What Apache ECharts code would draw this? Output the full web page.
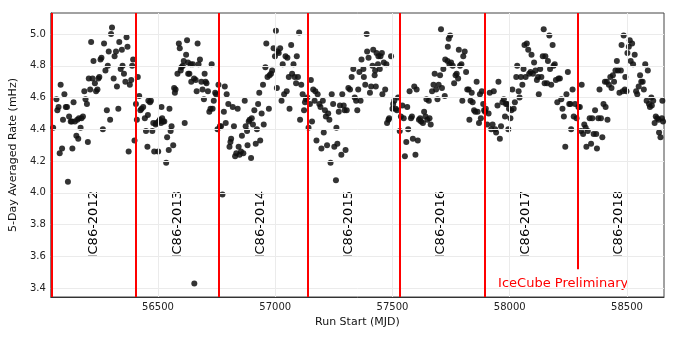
<!DOCTYPE html>
<html>
<head>
<meta charset="utf-8">
<script src="https://cdn.jsdelivr.net/npm/echarts@6/dist/echarts.min.js"></script>
<style>
  html, body { margin: 0; padding: 0; background: #fff; }
  #chart { width: 678px; height: 339px; }
</style>
</head>
<body>
<div id="chart"></div>
<script>
// 5-day averaged rates [run start MJD, rate mHz], one list per season
const season2012 = [[56053,4.41],[56067,4.59],[56071,4.52],[56076,4.54],[56081,4.25],[56085,4.68],[56091,4.28],[56095,4.46],[56101,4.62],[56107,4.54],[56112,4.54],[56116,4.07],[56121,4.48],[56128,4.45],[56133,4.45],[56135,4.28],[56140,4.57],[56146,4.45],[56152,4.36],[56156,4.46],[56160,4.34],[56163,4.47],[56170,4.41],[56174,4.47],[56180,4.48],[56186,4.64],[56191,4.59],[56197,4.56],[56201,4.32],[56205,4.72],[56211,4.65],[56215,4.95],[56221,4.72],[56225,4.83],[56231,4.69],[56236,4.64],[56242,4.65],[56246,4.72],[56250,4.73],[56255,4.84],[56259,4.85],[56265,4.40],[56270,4.94],[56276,4.77],[56282,4.52],[56286,4.80],[56290,4.89],[56296,4.46],[56300,5.00],[56304,5.04],[56311,4.72],[56315,4.86],[56321,4.89],[56325,4.67],[56331,4.53],[56335,4.95],[56341,4.78],[56346,4.90],[56349,4.80],[56355,4.75],[56361,4.70],[56366,4.98],[56370,4.92],[56375,4.26],[56380,4.68],[56386,4.71],[56390,4.80],[56394,4.84],[56400,4.33]];
const season2013 = [[56406,4.56],[56410,4.46],[56414,4.73],[56420,4.61],[56425,4.52],[56430,4.53],[56437,4.54],[56444,4.47],[56449,4.39],[56455,4.29],[56457,4.49],[56459,4.58],[56466,4.57],[56470,4.58],[56476,4.39],[56480,4.44],[56484,4.26],[56490,4.43],[56493,4.44],[56501,4.26],[56503,4.45],[56508,4.46],[56513,4.44],[56515,4.54],[56518,4.47],[56522,4.45],[56527,4.45],[56535,4.19],[56539,4.35],[56546,4.27],[56549,4.53],[56554,4.39],[56558,4.42],[56565,4.30],[56569,4.66],[56572,4.63],[56575,4.65],[56583,4.75],[56589,4.94],[56593,4.91],[56597,4.77],[56600,4.79],[56606,4.80],[56610,4.83],[56614,4.44],[56620,4.87],[56624,4.96],[56628,4.82],[56629,4.75],[56634,4.75],[56640,4.81],[56642,4.70],[56649,4.81],[56654,4.72],[56655,3.43],[56661,4.71],[56665,4.64],[56669,4.94],[56673,4.81],[56679,4.84],[56685,4.70],[56690,4.65],[56696,4.59],[56699,4.75],[56703,4.70],[56707,4.69],[56713,4.64],[56719,4.51],[56724,4.53],[56729,4.81],[56733,4.53],[56738,4.58],[56744,4.63],[56748,4.62],[56754,4.40],[56758,4.68]];
const season2014 = [[56764,4.42],[56769,4.42],[56775,3.99],[56781,4.51],[56785,4.67],[56789,4.44],[56793,4.62],[56800,4.56],[56805,4.29],[56809,4.32],[56812,4.34],[56819,4.54],[56824,4.42],[56829,4.23],[56834,4.25],[56840,4.53],[56844,4.29],[56848,4.24],[56854,4.26],[56858,4.36],[56864,4.25],[56870,4.58],[56874,4.42],[56880,4.39],[56882,4.30],[56887,4.45],[56891,4.46],[56897,4.22],[56900,4.47],[56905,4.43],[56911,4.52],[56917,4.31],[56922,4.40],[56927,4.56],[56932,4.63],[56936,4.33],[56942,4.50],[56948,4.68],[56951,4.43],[56958,4.79],[56962,4.94],[56967,4.73],[56973,4.53],[56976,4.74],[56982,4.75],[56987,4.77],[56993,4.91],[56999,4.86],[57003,5.02],[57007,4.66],[57010,4.89],[57015,4.88],[57021,4.91],[57027,4.58],[57032,4.81],[57038,4.62],[57044,4.86],[57049,4.64],[57052,4.85],[57058,4.73],[57061,4.53],[57068,4.93],[57072,4.75],[57078,4.81],[57083,4.73],[57089,4.69],[57092,4.86],[57097,4.73],[57102,5.01],[57106,4.46],[57111,4.68],[57117,4.62],[57123,4.52],[57127,4.57],[57131,4.59]];
const season2015 = [[57137,4.60],[57142,4.41],[57148,4.56],[57152,4.71],[57157,4.45],[57162,4.65],[57168,4.58],[57171,4.64],[57176,4.33],[57181,4.62],[57188,4.56],[57193,4.54],[57197,4.28],[57203,4.58],[57207,4.38],[57212,4.52],[57216,4.48],[57221,4.30],[57226,4.50],[57231,4.46],[57236,4.19],[57241,4.62],[57247,4.56],[57252,4.29],[57259,4.08],[57261,4.41],[57265,4.31],[57271,4.51],[57276,4.55],[57282,4.24],[57286,4.62],[57292,4.55],[57296,4.52],[57300,4.27],[57305,4.52],[57312,4.66],[57319,4.65],[57326,4.73],[57333,4.78],[57339,4.60],[57345,4.58],[57350,4.52],[57354,4.65],[57359,4.76],[57364,4.58],[57368,4.84],[57376,4.78],[57378,4.73],[57384,4.68],[57390,5.00],[57392,4.89],[57398,4.85],[57404,4.63],[57409,4.67],[57415,4.80],[57418,4.90],[57424,4.74],[57426,4.77],[57429,4.67],[57432,4.88],[57438,4.81],[57440,4.86],[57446,4.78],[57449,4.86],[57455,4.88],[57457,4.62],[57463,4.82],[57469,4.65],[57474,4.81],[57477,4.44],[57483,4.46],[57486,4.47],[57494,4.86],[57500,4.53],[57503,4.56],[57508,4.58],[57514,4.53],[57519,4.52],[57524,4.60]];
const season2016 = [[57531,4.39],[57536,4.48],[57542,4.55],[57548,4.47],[57553,4.23],[57559,4.32],[57563,4.54],[57567,4.40],[57573,4.64],[57579,4.47],[57583,4.48],[57587,4.34],[57593,4.67],[57598,4.24],[57603,4.65],[57608,4.33],[57613,4.46],[57618,4.47],[57622,4.45],[57630,4.44],[57635,4.51],[57641,4.48],[57645,4.59],[57649,4.46],[57655,4.58],[57658,4.47],[57663,4.43],[57669,4.64],[57675,4.68],[57680,4.75],[57686,4.65],[57692,4.59],[57697,4.68],[57703,4.74],[57707,5.03],[57711,4.66],[57717,4.78],[57723,4.61],[57725,4.84],[57735,4.83],[57736,4.92],[57740,4.97],[57743,4.81],[57746,4.99],[57750,4.82],[57757,4.80],[57763,4.69],[57769,4.74],[57774,4.75],[57780,4.72],[57783,4.90],[57788,4.80],[57794,4.81],[57798,4.58],[57802,4.86],[57808,4.89],[57814,4.76],[57819,4.65],[57825,4.65],[57828,4.46],[57833,4.58],[57838,4.63],[57842,4.57],[57848,4.52],[57853,4.51],[57859,4.70],[57863,4.51],[57869,4.44],[57873,4.62],[57877,4.47],[57881,4.64],[57887,4.56],[57891,4.52]];
const season2017 = [[57895,4.51],[57898,4.53],[57904,4.43],[57910,4.50],[57915,4.63],[57921,4.40],[57927,4.43],[57932,4.64],[57938,4.40],[57942,4.38],[57948,4.55],[57952,4.70],[57958,4.34],[57963,4.42],[57969,4.57],[57975,4.59],[57980,4.48],[57984,4.56],[57989,4.56],[57994,4.40],[57997,4.53],[58003,4.47],[58007,4.52],[58011,4.65],[58017,4.53],[58022,4.57],[58028,4.73],[58032,4.80],[58038,4.64],[58042,4.60],[58048,4.73],[58054,4.68],[58059,4.78],[58063,4.93],[58068,4.73],[58073,4.94],[58079,4.90],[58083,4.75],[58089,4.76],[58093,4.87],[58099,4.75],[58104,4.82],[58110,4.77],[58116,4.71],[58121,4.73],[58124,4.62],[58130,4.78],[58135,4.73],[58141,4.86],[58145,5.03],[58149,4.69],[58152,4.86],[58159,4.69],[58163,4.83],[58169,4.99],[58172,4.78],[58177,4.68],[58183,4.93],[58187,4.80],[58192,4.81],[58197,4.71],[58203,4.57],[58208,4.72],[58214,4.72],[58220,4.59],[58225,4.53],[58231,4.48],[58237,4.29],[58242,4.62],[58248,4.76],[58254,4.56],[58259,4.56],[58262,4.40],[58268,4.65],[58273,4.48],[58279,4.56],[58285,4.47]];
const season2018 = [[58293,4.54],[58299,4.54],[58304,4.39],[58307,4.68],[58313,4.37],[58318,4.43],[58324,4.41],[58327,4.29],[58333,4.39],[58341,4.47],[58347,4.31],[58352,4.47],[58358,4.37],[58364,4.52],[58369,4.37],[58372,4.28],[58378,4.47],[58383,4.65],[58389,4.47],[58395,4.35],[58400,4.56],[58406,4.70],[58409,4.54],[58414,4.70],[58417,4.46],[58423,4.68],[58429,4.73],[58434,4.66],[58440,4.74],[58445,4.70],[58451,4.77],[58457,4.83],[58462,4.77],[58468,4.63],[58474,4.77],[58477,4.93],[58482,4.64],[58486,4.99],[58491,4.65],[58493,4.73],[58498,4.64],[58502,4.88],[58508,4.92],[58512,4.96],[58516,4.83],[58522,4.94],[58526,4.81],[58533,4.87],[58539,4.64],[58544,4.62],[58550,4.67],[58556,4.74],[58561,4.70],[58567,4.70],[58572,4.65],[58578,4.81],[58584,4.58],[58589,4.77],[58594,4.56],[58598,4.54],[58604,4.60],[58606,4.55],[58612,4.58],[58618,4.44],[58623,4.48],[58629,4.47],[58635,4.46],[58637,4.38],[58643,4.35],[58649,4.47],[58651,4.58],[58654,4.45]];

// season boundaries (red lines) and labels
const seasonStarts = [56047, 56404, 56760, 57137, 57530, 57892, 58289];
const lastLineBottom = 3.52;
const seasonNames = ['IC86-2012', 'IC86-2013', 'IC86-2014', 'IC86-2015', 'IC86-2016', 'IC86-2017', 'IC86-2018'];
const seasonLabelX = [56226, 56583, 56938, 57315, 57707, 58070, 58466];
const seasonLabelY = 3.80;

const xTicks = [56500, 57000, 57500, 58000, 58500];
const yTicks = [3.4, 3.6, 3.8, 4.0, 4.2, 4.4, 4.6, 4.8, 5.0];
const xMin = 56043, xMax = 58658;
const yMin = 3.345, yMax = 5.132;

const allPoints = [].concat(season2012, season2013, season2014, season2015, season2016, season2017, season2018);

const chart = echarts.init(document.getElementById('chart'), null, { renderer: 'canvas' });
const font = 'DejaVu Sans';

const redLines = seasonStarts.slice(0, -1).map(v => ({ xAxis: v }));
const last = seasonStarts[seasonStarts.length - 1];
redLines.push([{ coord: [last, lastLineBottom] }, { coord: [last, yMax] }]);

const option = {
  animation: false,
  textStyle: { fontFamily: font },
  grid: {
    left: 47, right: 14, top: 13, bottom: 42,
    show: true, borderColor: '#444', borderWidth: 1, backgroundColor: '#fff'
  },
  xAxis: {
    type: 'value', min: xMin, max: xMax,
    name: 'Run Start (MJD)', nameLocation: 'middle', nameGap: 19,
    nameTextStyle: { fontSize: 11, color: '#111', fontFamily: font },
    axisLine: { show: true, lineStyle: { color: '#333' } },
    axisTick: { show: false },
    splitLine: { show: false },
    axisLabel: { customValues: xTicks, fontSize: 10, color: '#222', margin: 5, fontFamily: font,
      formatter: v => String(v) }
  },
  yAxis: {
    type: 'value', min: yMin, max: yMax,
    name: '5-Day Averaged Rate (mHz)', nameLocation: 'middle', nameGap: 21, nameRotate: 90,
    nameTextStyle: { fontSize: 11, color: '#111', fontFamily: font },
    axisLine: { show: true, lineStyle: { color: '#333' } },
    axisTick: { show: false },
    splitLine: { show: false },
    axisLabel: { customValues: yTicks, fontSize: 10, color: '#222', margin: 5, fontFamily: font,
      formatter: v => v.toFixed(1) }
  },
  series: [
    {
      // light grid lines behind the points
      type: 'scatter', data: [], silent: true, z: 1,
      markLine: {
        silent: true, symbol: 'none', animation: false,
        label: { show: false },
        lineStyle: { color: '#ebebeb', width: 1, type: 'solid' },
        data: xTicks.map(v => ({ xAxis: v })).concat(yTicks.map(v => ({ yAxis: v })))
      }
    },
    {
      name: 'rate', type: 'scatter', z: 2,
      symbolSize: 6,
      itemStyle: { color: '#111', opacity: 0.85 },
      data: allPoints
    },
    {
      // season boundaries
      type: 'scatter', data: [], silent: true, z: 3,
      markLine: {
        silent: true, symbol: 'none', animation: false,
        label: { show: false },
        lineStyle: { color: '#ff0000', width: 2, type: 'solid', opacity: 1 },
        data: redLines
      }
    },
    {
      type: 'scatter', silent: true, z: 4,
      symbolSize: 1, itemStyle: { color: 'rgba(255,255,255,0)' },
      label: {
        show: true, position: 'inside', rotate: 90, formatter: '{b}',
        fontSize: 13, color: '#000', fontFamily: font,
        textBorderWidth: 0, opacity: 1
      },
      data: seasonNames.map((n, i) => ({ name: n, value: [seasonLabelX[i], seasonLabelY] }))
    },
    {
      type: 'scatter', silent: true, z: 4,
      symbolSize: 1, itemStyle: { color: 'rgba(255,255,255,0)' },
      label: {
        show: true, position: 'inside', formatter: '{b}',
        fontSize: 13, color: '#ff0000', fontFamily: font,
        textBorderWidth: 0, opacity: 1
      },
      data: [{ name: 'IceCube Preliminary', value: [58228, 3.43] }]
    }
  ]
};
chart.setOption(option);
</script>
</body>
</html>
